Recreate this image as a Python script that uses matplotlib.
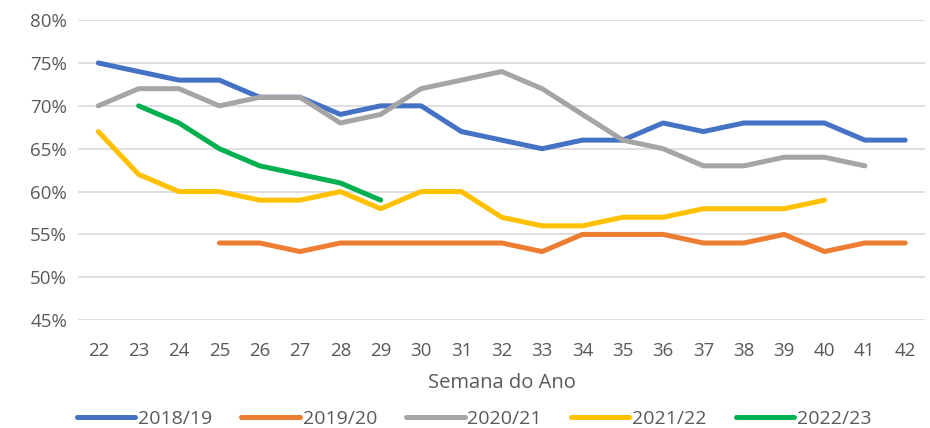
import matplotlib
matplotlib.use("Agg")
import matplotlib.pyplot as plt
from matplotlib.ticker import FuncFormatter

plt.rcParams['font.family'] = ['Open Sans', 'DejaVu Sans']

semanas = list(range(22, 43))

s2018 = [75, 74, 73, 73, 71, 71, 69, 70, 70, 67, 66, 65, 66, 66, 68, 67, 68, 68, 68, 66, 66]
sem2019 = list(range(25, 43))
s2019 = [54, 54, 53, 54, 54, 54, 54, 54, 53, 55, 55, 55, 54, 54, 55, 53, 54, 54]
sem2020 = list(range(22, 42))
s2020 = [70, 72, 72, 70, 71, 71, 68, 69, 72, 73, 74, 72, 69, 66, 65, 63, 63, 64, 64, 63]
sem2021 = list(range(22, 41))
s2021 = [67, 62, 60, 60, 59, 59, 60, 58, 60, 60, 57, 56, 56, 57, 57, 58, 58, 58, 59]
sem2022 = list(range(23, 30))
s2022 = [70, 68, 65, 63, 62, 61, 59]

series = [
    ("2018/19", semanas, s2018, "#4472c4"),
    ("2019/20", sem2019, s2019, "#ed7d31"),
    ("2020/21", sem2020, s2020, "#a5a5a5"),
    ("2021/22", sem2021, s2021, "#ffc000"),
    ("2022/23", sem2022, s2022, "#00b050"),
]

fig = plt.figure(figsize=(9.3, 4.28), dpi=100)
ax = fig.add_axes([0.084, 0.252, 0.911, 0.701])

for nome, x, y, cor in series:
    ax.plot(x, [v / 100 for v in y], color=cor, lw=3.6, label=nome,
            solid_capstyle="round", solid_joinstyle="round")

ax.set_xlim(21.5, 42.5)
ax.set_ylim(0.45, 0.80)
ax.set_yticks([0.45 + 0.05 * i for i in range(8)])
ax.yaxis.set_major_formatter(FuncFormatter(lambda v, p: f"{v * 100:.0f}%"))
ax.set_xticks(semanas)
ax.grid(axis="y", color="#d9d9d9", lw=1.2)
ax.set_axisbelow(True)
for s in ax.spines.values():
    s.set_visible(False)
ax.tick_params(length=0, labelsize=13.5, colors="#595959", pad=16)
ax.tick_params(axis="y", pad=8)
ax.set_xlabel("Semana do Ano", fontsize=14.5, color="#595959", labelpad=9)

fig.legend(loc="lower center", bbox_to_anchor=(0.51, -0.04), ncol=5, frameon=False,
           fontsize=14, labelcolor="#595959", handlelength=3.0, handletextpad=0.15,
           columnspacing=1.5)

fig.savefig("out.png", dpi=100)
